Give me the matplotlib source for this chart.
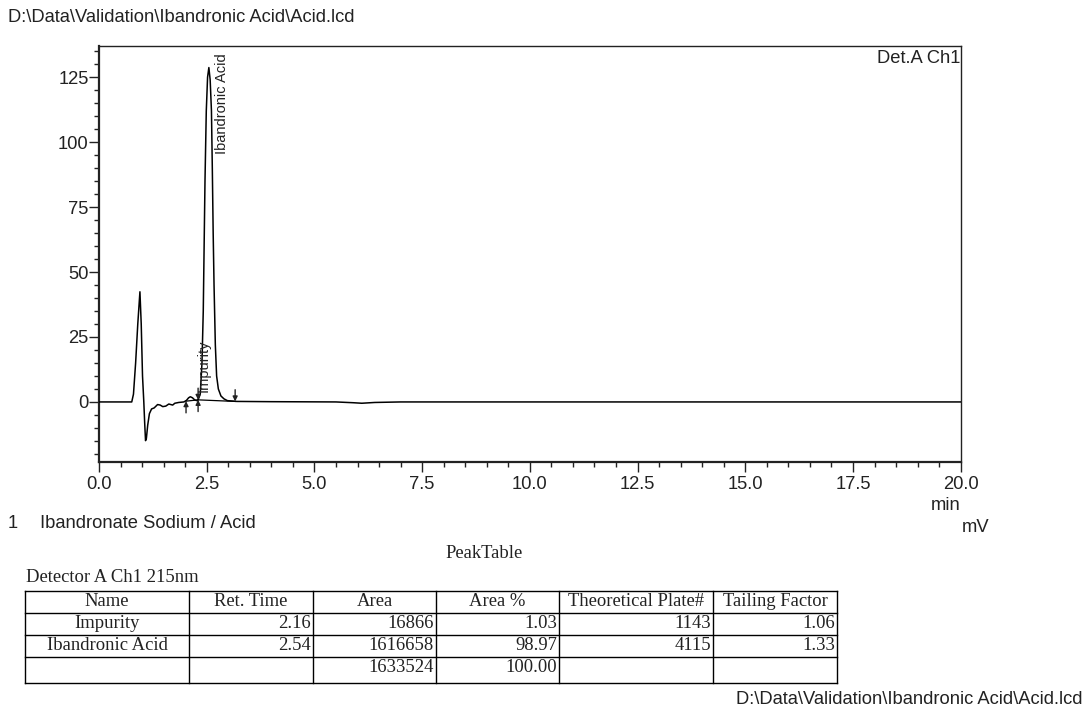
import matplotlib
matplotlib.use("Agg")
import matplotlib.pyplot as plt
from matplotlib.ticker import MultipleLocator, FormatStrFormatter

# ── Data ──────────────────────────────────────────────────────────────────────
file_path = "D:\\Data\\Validation\\Ibandronic Acid\\Acid.lcd"
sample_no = "1"
sample_name = "Ibandronate Sodium / Acid"
channel = "Det.A Ch1"
detector = "Detector A Ch1 215nm"

# chromatogram (min, mV)
t_min = [0.0, 0.76, 0.80, 0.85, 0.90, 0.95, 0.98, 1.01, 1.04, 1.06, 1.08, 1.10,
         1.13, 1.17, 1.22, 1.28, 1.36, 1.42, 1.48, 1.55, 1.62, 1.71, 1.76, 1.85,
         1.97, 2.03, 2.08, 2.12, 2.17, 2.22, 2.27, 2.30, 2.35, 2.39, 2.42, 2.44,
         2.46, 2.49, 2.52, 2.55, 2.58, 2.61, 2.63, 2.65, 2.67, 2.70, 2.73, 2.77,
         2.83, 2.90, 2.98, 3.20, 4.00, 5.50, 5.90, 6.10, 6.40, 7.00, 20.0]
signal_mv = [0.0, 0.0, 3.0, 15.0, 30.0, 42.4, 30.0, 10.0, 0.0, -8.0, -14.9, -14.0,
             -9.0, -4.5, -2.7, -2.3, -1.0, -1.2, -1.8, -1.6, -0.8, -1.2, -0.5, -0.2,
             0.0, 0.6, 1.6, 2.0, 1.6, 0.8, 0.5, 0.8, 3.0, 15.0, 35.0, 60.0,
             85.0, 112.0, 125.0, 128.7, 124.0, 112.0, 90.0, 65.0, 45.0, 22.0, 10.0, 5.0,
             2.3, 1.2, 0.5, 0.2, 0.1, 0.0, -0.3, -0.5, -0.2, 0.0, 0.0]

# integration marks: (time, mV at baseline, direction)
mark_t = [2.02, 2.30, 2.30, 3.16]
mark_mv = [0.3, 0.8, 0.8, 0.2]
mark_dir = ["up", "up", "down", "down"]

# integration baselines
base_t = [[2.02, 2.30], [2.30, 3.16]]
base_mv = [[0.3, 0.8], [0.8, 0.2]]

# peak labels
peak_names = ["Impurity", "Ibandronic Acid"]
label_t = [2.43, 2.85]
label_mv = [3.8, 134.2]
label_va = ["bottom", "top"]

# peak table
tbl_header = ["Name", "Ret. Time", "Area", "Area %", "Theoretical Plate#", "Tailing Factor"]
tbl_names = ["Impurity", "Ibandronic Acid"]
ret_time = [2.16, 2.54]
area = [16866, 1616658]
area_pct = [1.03, 98.97]
plates = [1143, 4115]
tailing = [1.06, 1.33]
total_area = 1633524
total_pct = 100.00

# ── Figure ────────────────────────────────────────────────────────────────────
W, H = 1088, 709
FS = 13.2
plt.rcParams["font.family"] = ["Liberation Sans", "DejaVu Sans"]
fig = plt.figure(figsize=(W / 100, H / 100), dpi=100)
fig.patch.set_facecolor("white")

ax_l, ax_r, ax_t, ax_b = 99, 960.7, 46, 461.7
ax = fig.add_axes([ax_l / W, (H - ax_b) / H, (ax_r - ax_l) / W, (ax_b - ax_t) / H])

ax.plot(t_min, signal_mv, color="black", linewidth=1.1, zorder=3)
for bt, bm in zip(base_t, base_mv):
    ax.plot(bt, bm, color="black", linewidth=0.9, zorder=2)

for t, m, d in zip(mark_t, mark_mv, mark_dir):
    start = m - 4.5 if d == "up" else m + 4.5
    ax.annotate("", xy=(t, m), xytext=(t, start),
                arrowprops=dict(arrowstyle="-|>", color="#222222", lw=1.0,
                                mutation_scale=7, shrinkA=0, shrinkB=0))

for name, t, m, va in zip(peak_names, label_t, label_mv, label_va):
    ax.text(t, m, name, rotation=90, ha="center", va=va, fontsize=10.5, color="#222222")

ax.set_xlim(0, 20)
ax.set_ylim(-23, 137)
ax.xaxis.set_major_locator(MultipleLocator(2.5))
ax.xaxis.set_minor_locator(MultipleLocator(0.5))
ax.yaxis.set_major_locator(MultipleLocator(25))
ax.yaxis.set_minor_locator(MultipleLocator(5))
ax.xaxis.set_major_formatter(FormatStrFormatter("%.1f"))
ax.tick_params(axis="both", which="major", direction="out", length=7, width=1.0,
               labelsize=FS, colors="#222222")
ax.tick_params(axis="both", which="minor", direction="out", length=3.5, width=1.0,
               colors="#222222")
ax.tick_params(axis="x", which="major", pad=3)
ax.tick_params(axis="y", which="major", pad=0.5)
ax.spines["left"].set_linewidth(1.6)
ax.spines["bottom"].set_linewidth(1.6)
ax.spines["top"].set_linewidth(1.0)
ax.spines["right"].set_linewidth(1.0)
for s in ax.spines.values():
    s.set_color("#222222")

ax.text(1.0, 0.971, channel, transform=ax.transAxes, ha="right", va="center",
        fontsize=FS, color="#222222")

# ── Overlay in pixel coordinates for texts and the peak table ────────────────
ov = fig.add_axes([0, 0, 1, 1], zorder=-1)
ov.set_xlim(0, W)
ov.set_ylim(H, 0)
ov.axis("off")
ov.patch.set_visible(False)

ov.text(8, 17, file_path, ha="left", va="center", fontsize=FS, color="#222222")
ov.text(ax_r, 505, "min", ha="right", va="center", fontsize=FS, color="#222222")
ov.text(962, 527, "mV", ha="left", va="center", fontsize=FS, color="#222222")
ov.text(8, 523, sample_no, ha="left", va="center", fontsize=FS, color="#222222")
ov.text(40, 523, sample_name, ha="left", va="center", fontsize=FS, color="#222222")
ov.text(1082, 700, file_path, ha="right", va="center", fontsize=FS, color="#222222")

serif = ["Liberation Serif", "DejaVu Serif"]
SFS = 13.4
ov.text(484, 553, "PeakTable", ha="center", va="center", fontsize=SFS,
        family=serif, color="#222222")
ov.text(26, 578, detector, ha="left", va="center", fontsize=SFS,
        family=serif, color="#222222")

col_x = [25, 189, 313, 436, 559, 713, 837]
row_y = [591, 612.5, 635, 656.5, 683]
for x in col_x:
    ov.plot([x, x], [row_y[0], row_y[-1]], color="black", linewidth=1.0)
for y in row_y:
    ov.plot([col_x[0], col_x[-1]], [y, y], color="black", linewidth=1.0)


def cell(ci, ri, txt, align, top=False):
    y = (row_y[ri] + 10.5) if top else (row_y[ri] + row_y[ri + 1]) / 2
    if align == "center":
        x = (col_x[ci] + col_x[ci + 1]) / 2
    else:
        x = col_x[ci + 1] - 2
    ov.text(x, y, txt, ha=align, va="center", fontsize=SFS, family=serif,
            color="#222222")


for ci, h in enumerate(tbl_header):
    cell(ci, 0, h, "center")
for ri in range(len(tbl_names)):
    cell(0, ri + 1, tbl_names[ri], "center")
    cell(1, ri + 1, f"{ret_time[ri]:.2f}", "right")
    cell(2, ri + 1, f"{area[ri]}", "right")
    cell(3, ri + 1, f"{area_pct[ri]:.2f}", "right")
    cell(4, ri + 1, f"{plates[ri]}", "right")
    cell(5, ri + 1, f"{tailing[ri]:.2f}", "right")
cell(2, 3, f"{total_area}", "right", top=True)
cell(3, 3, f"{total_pct:.2f}", "right", top=True)

fig.savefig("out.png", dpi=100)
